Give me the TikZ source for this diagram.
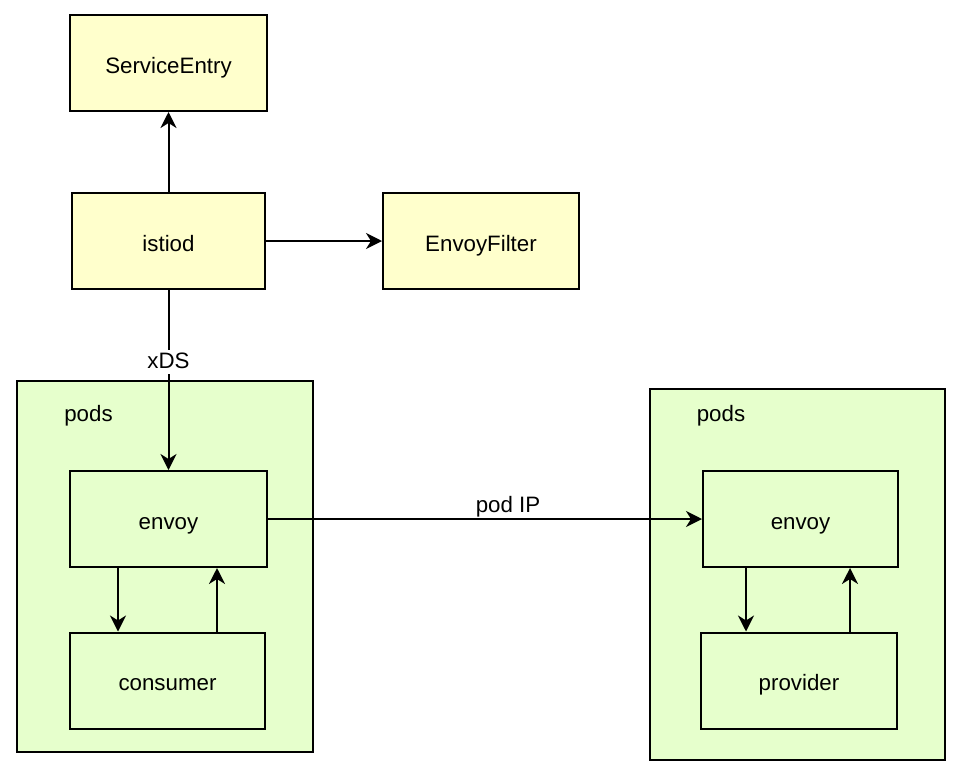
\documentclass[tikz,border=0pt]{standalone}
\usepackage{fontspec}
\setmainfont{Liberation Sans}
\usetikzlibrary{arrows.meta}
\definecolor{ylw}{HTML}{FFFFCC}
\definecolor{grn}{HTML}{E6FFCC}
\tikzset{
  txt/.style={font=\fontsize{22.3}{26}\selectfont},
  ybox/.style={txt, draw=black, line width=2pt, fill=ylw, minimum width=#1, minimum height=96pt, inner sep=0pt, text height=20pt, text depth=0pt},
  gbox/.style={txt, draw=black, line width=2pt, fill=grn, minimum width=195pt, minimum height=96pt, inner sep=0pt, text height=20pt, text depth=0pt},
  podbox/.style={draw=black, line width=2pt, fill=grn, inner sep=0pt},
  conn/.style={line width=2pt, -{Stealth[length=16pt, width=16pt, inset=5pt]}},
  lbl/.style={txt, inner sep=1.5pt, text height=16.7pt, text depth=4.5pt},
}
\begin{document}
\begin{tikzpicture}[x=1pt, y=-1pt]
\useasboundingbox (0,0) rectangle (964,774);
% containers
\node[podbox, minimum width=296pt, minimum height=371pt] (podL) at (165,566.5) {};
\node[podbox, minimum width=295pt, minimum height=371pt] (podR) at (797.5,574.5) {};
\node[lbl] (podsL) at (88.5,415) {pods};
\node[lbl] (podsR) at (721,415) {pods};
% yellow boxes
\node[ybox=197pt] (se) at (168.5,63) {ServiceEntry};
\node[ybox=193pt] (istiod) at (168.5,241) {istiod};
\node[ybox=196pt] (ef) at (481,241) {EnvoyFilter};
% green boxes
\node[gbox, minimum width=197pt] (envL) at (168.5,519) {envoy};
\node[gbox] (cons) at (167.5,680.5) {consumer};
\node[gbox] (envR) at (800.5,519) {envoy};
\node[gbox, minimum width=196pt] (prov) at (799,680.5) {provider};
% connectors
\draw[conn] (istiod.north) -- (se.south);
\draw[conn] (istiod.east) -- (ef.west);
\draw[conn] (istiod.south) -- node[lbl, fill=white, pos=0.402] (xds) {xDS} (envL.north);
\draw[conn] (envL.east) -- node[lbl, anchor=south, pos=0.553] (podip) {pod IP} (envR.west);
\draw[conn] (envL.south -| 118,0) -- (cons.north -| 118,0);
\draw[conn] (cons.north -| 217,0) -- (envL.south -| 217,0);
\draw[conn] (envR.south -| 746,0) -- (prov.north -| 746,0);
\draw[conn] (prov.north -| 850,0) -- (envR.south -| 850,0);
\end{tikzpicture}
\end{document}
